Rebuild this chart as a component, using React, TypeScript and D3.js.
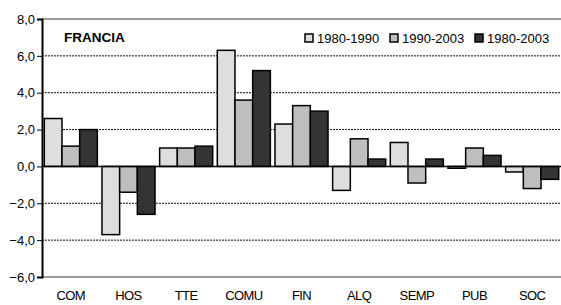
import React, { useEffect, useRef } from "react";
import * as d3 from "d3";

// data
const categories = ["COM", "HOS", "TTE", "COMU", "FIN", "ALQ", "SEMP", "PUB", "SOC"];
const series = ["1980-1990", "1990-2003", "1980-2003"];
const v1980_1990 = [2.6, -3.7, 1.0, 6.3, 2.3, -1.3, 1.3, -0.1, -0.3];
const v1990_2003 = [1.1, -1.4, 1.0, 3.6, 3.3, 1.5, -0.9, 1.0, -1.2];
const v1980_2003 = [2.0, -2.6, 1.1, 5.2, 3.0, 0.4, 0.4, 0.6, -0.7];
const yTicks = [-6, -4, -2, 0, 2, 4, 6, 8];
const colors = ["#dedede", "#bebebe", "#343434"];

const WIDTH = 561;
const HEIGHT = 305;
const FONT = "Liberation Sans, Arial, sans-serif";

function App() {
  const svgRef = useRef<SVGSVGElement>(null);

  useEffect(() => {
    const svg = d3.select(svgRef.current);
    svg.selectAll("*").remove();

    const left = 42;
    const right = 561;
    const top = 19;
    const bottom = 277;

    const table = categories.map((c, i) => ({
      cat: c,
      values: [v1980_1990[i], v1990_2003[i], v1980_2003[i]],
    }));

    const x0 = d3.scaleBand()
      .domain(categories)
      .range([left, right])
      .paddingInner(0.08)
      .paddingOuter(0.04);

    const x1 = d3.scaleBand()
      .domain(series)
      .range([0, x0.bandwidth()]);

    const y = d3.scaleLinear()
      .domain([-6, 8])
      .range([bottom, top]);

    // gridlines
    svg.append("g")
      .selectAll("line")
      .data(yTicks.filter(t => t !== 0))
      .join("line")
      .attr("x1", left)
      .attr("x2", right)
      .attr("y1", d => y(d))
      .attr("y2", d => y(d))
      .attr("stroke", d => (d === 8 || d === -6) ? "#999" : "#111")
      .attr("stroke-width", d => (d === 8 || d === -6) ? 2 : 1)
      .attr("stroke-dasharray", d => (d === 8 || d === -6) ? null : "2,1");

    // bars
    svg.append("g")
      .selectAll("g")
      .data(table)
      .join("g")
      .attr("transform", d => `translate(${x0(d.cat)},0)`)
      .selectAll("rect")
      .data(d => d.values.map((v, i) => ({ key: series[i], v, i })))
      .join("rect")
      .attr("x", d => x1(d.key)!)
      .attr("width", x1.bandwidth())
      .attr("y", d => y(Math.max(0, d.v)))
      .attr("height", d => Math.abs(y(d.v) - y(0)))
      .attr("fill", d => colors[d.i])
      .attr("stroke", "#000")
      .attr("stroke-width", 1.5);

    // zero line
    svg.append("line")
      .attr("x1", left)
      .attr("x2", right)
      .attr("y1", y(0))
      .attr("y2", y(0))
      .attr("stroke", "#000")
      .attr("stroke-width", 1.5);

    // y axis
    const yAxis = d3.axisLeft(y)
      .tickValues(yTicks)
      .tickSize(5)
      .tickFormat(d => d3.format(".1f")(d as number).replace(".", ","));
    const ya = svg.append("g")
      .attr("transform", `translate(${left},0)`)
      .call(yAxis);
    ya.select(".domain").attr("stroke", "#000").attr("stroke-width", 2);
    ya.selectAll(".tick line").attr("stroke", "#000");
    ya.selectAll(".tick text")
      .attr("font-family", FONT)
      .attr("font-size", 13)
      .attr("fill", "#000")
      .attr("x", -7);

    // x labels
    svg.append("g")
      .selectAll("text")
      .data(categories)
      .join("text")
      .attr("x", d => x0(d)! + x0.bandwidth() / 2)
      .attr("y", 300)
      .attr("text-anchor", "middle")
      .attr("font-family", FONT)
      .attr("font-size", 13)
      .attr("letter-spacing", -0.6)
      .text(d => d);

    // title
    svg.append("text")
      .attr("x", 64)
      .attr("y", 42)
      .attr("font-family", FONT)
      .attr("font-size", 13.5)
      .attr("font-weight", "bold")
      .text("FRANCIA");

    // legend
    const legendX = [305, 390, 475];
    const lg = svg.append("g")
      .selectAll("g")
      .data(series)
      .join("g")
      .attr("transform", (d, i) => `translate(${legendX[i]},32)`);
    lg.append("rect")
      .attr("width", 8)
      .attr("height", 8)
      .attr("y", 2)
      .attr("fill", (d, i) => colors[i])
      .attr("stroke", "#000")
      .attr("stroke-width", 1.5);
    lg.append("text")
      .attr("x", 12)
      .attr("y", 11)
      .attr("font-family", FONT)
      .attr("font-size", 13)
      .text(d => d);
  }, []);

  return (
    <div style={{ position: "absolute", left: 0, top: 0 }}>
      <svg ref={svgRef} width={WIDTH} height={HEIGHT} style={{ display: "block", background: "#fff" }} />
    </div>
  );
}

export default App;
